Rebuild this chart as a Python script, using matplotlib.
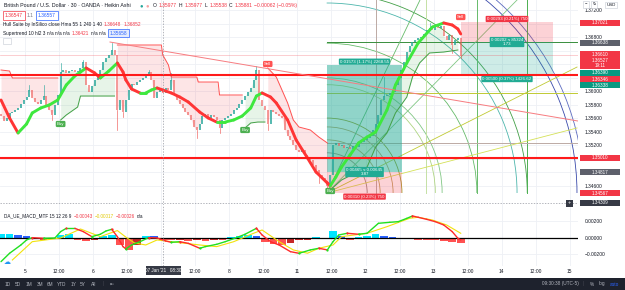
import numpy as np
import matplotlib
matplotlib.use("Agg")
import matplotlib.pyplot as plt
from matplotlib.patches import Rectangle, Arc
from matplotlib.collections import LineCollection

plt.rcParams['font.family'] = ['Liberation Sans', 'DejaVu Sans']

# ---------------------------------------------------------------- data
# Heikin Ashi closes, one value per hour (30-min chart read at hourly step)
closes = [
    1.35631, 1.35557, 1.35602, 1.35676, 1.35690, 1.35720, 1.35750, 1.35809, 1.35868, 1.35912,
    1.36016, 1.35898, 1.35838, 1.35809, 1.35868, 1.35927, 1.35779, 1.35720, 1.35646, 1.35794,
    1.35942, 1.36282, 1.36312, 1.36268, 1.36297, 1.36312, 1.36282, 1.36297, 1.36342, 1.36430,
    1.36090, 1.35986, 1.36075, 1.36164, 1.36223, 1.36312, 1.36430, 1.36490, 1.36534, 1.36608,
    1.36534, 1.35720, 1.35868, 1.35690, 1.35868, 1.36016, 1.36105, 1.36090, 1.36134, 1.36164,
    1.36194, 1.36223, 1.36282, 1.36164, 1.35898, 1.35986, 1.36016, 1.35972, 1.36046, 1.36016,
    1.36164, 1.35942, 1.35868, 1.35809, 1.35750, 1.35690, 1.35646, 1.35572, 1.35468, 1.35424,
    1.35513, 1.35631, 1.35661, 1.35602, 1.35646, 1.35616, 1.35572, 1.35454, 1.35572, 1.35602,
    1.35631, 1.35661, 1.35720, 1.35750, 1.35809, 1.35868, 1.35927, 1.35986, 1.36046, 1.36164,
    1.36312, 1.35868, 1.35779, 1.35720, 1.35513, 1.35720, 1.35690, 1.35661, 1.35631, 1.35602,
    1.35424, 1.35335, 1.35276, 1.35202, 1.35128, 1.35098, 1.35128, 1.35054, 1.35010, 1.34980,
    1.34906, 1.34832, 1.34758, 1.34714, 1.34654, 1.34595, 1.34758, 1.35202, 1.35232, 1.35187,
    1.35202, 1.35158, 1.35172, 1.35143, 1.35187, 1.35172, 1.35232, 1.35246, 1.35276, 1.35306,
    1.35335, 1.35424, 1.35513, 1.35646, 1.35868, 1.35927, 1.35942, 1.35972, 1.35986, 1.36090,
    1.36194, 1.36312, 1.36430, 1.36578, 1.36667, 1.36726, 1.36756, 1.36786, 1.36800, 1.36845,
    1.36904, 1.36934, 1.36904, 1.36948, 1.36934, 1.36963, 1.36815, 1.36756, 1.36830, 1.36682,
    1.36756, 1.36786, 1.36519]
first_open = 1.35660
wick_idx = [10, 15, 18, 21, 29, 39, 41, 43, 52, 60, 69, 77, 90, 94, 112, 115, 135, 151, 159, 162]
wick_px = [1.36090, 1.36090, 1.35572, 1.36416, 1.36460, 1.36712, 1.35424, 1.35616, 1.36312, 1.36268,
           1.35306, 1.35380, 1.36371, 1.35424, 1.34640, 1.34506, 1.36210, 1.37008, 1.36564, 1.36490]

# Hull Suite
hull_idx = [0, 3, 6, 9, 11, 14, 17, 20, 23, 26, 28, 30, 33, 35, 38, 41, 43, 44, 46, 49,
            51, 53, 55, 57, 60, 63, 66, 70, 73, 76, 79, 82, 85, 88, 90, 92, 95, 97, 101, 104,
            108, 111, 115, 116, 118, 120, 123, 126, 129, 132, 136, 139, 143, 147, 152, 156, 159, 161, 162]
hull = [1.35868, 1.35602, 1.35380, 1.35513, 1.35676, 1.35750, 1.35794, 1.35868, 1.36090, 1.36223,
        1.36282, 1.36342, 1.36268, 1.36194, 1.36297, 1.36416, 1.36282, 1.36164, 1.36031, 1.35972,
        1.35972, 1.36016, 1.36046, 1.36016, 1.35972, 1.35912, 1.35838, 1.35690, 1.35602, 1.35542,
        1.35542, 1.35572, 1.35631, 1.35750, 1.35927, 1.35972, 1.35912, 1.35824, 1.35572, 1.35276,
        1.35010, 1.34802, 1.34640, 1.34595, 1.34728, 1.34876, 1.35054, 1.35232, 1.35320, 1.35394,
        1.35720, 1.36090, 1.36416, 1.36712, 1.36948, 1.37008, 1.36978, 1.36919, 1.36845]

# Supertrend segments
st_r1_idx = [0, 3, 4, 20]
st_r1 = [1.36312, 1.36297, 1.36194, 1.36194]
st_g1_idx = [21, 23, 27, 28, 40]
st_g1 = [1.35572, 1.35646, 1.35764, 1.35927, 1.35927]
st_r2_idx = [41, 56.5, 57, 59, 60, 69, 69.5, 76.5, 77, 85]
st_r2 = [1.36682, 1.36682, 1.36534, 1.36386, 1.36208, 1.36208, 1.36134, 1.36134, 1.35942, 1.35942]
st_g2_idx = [86, 88, 90.5, 93]
st_g2 = [1.35454, 1.35528, 1.35542, 1.35542]
st_r3_idx = [94, 97, 99, 101, 103, 105, 109, 112, 115]
st_r3 = [1.36342, 1.36208, 1.36016, 1.35824, 1.35572, 1.35468, 1.35424, 1.35320, 1.35232]
st_g3_idx = [116, 120, 129, 132, 136, 139, 143, 145, 147.5, 151, 156, 161]
st_g3 = [1.34536, 1.34684, 1.34876, 1.35172, 1.35380, 1.35676, 1.35912, 1.36208, 1.36416, 1.36564, 1.36578, 1.36608]

sig_lbl_idx = [21, 86, 116, 94, 162]
sig_lbl_p = [1.35513, 1.35424, 1.34521, 1.36401, 1.37096]
sig_lbl_txt = ['Buy', 'Buy', 'Buy', 'Sell', 'Sell']

# MACD MTF
macd_idx = [0, 3, 7, 9, 11, 15, 19, 21, 23, 26, 29, 32, 35, 37, 39, 41, 43, 44, 46, 49,
            52, 55, 58, 60, 63, 66, 70, 72, 76, 79, 83, 86, 90, 92, 95, 98, 102, 105, 109, 112,
            115, 117, 119, 122, 126, 129, 133, 137, 140, 143, 145, 147, 150, 153, 156, 159, 161, 162]
macd = [-0.00287, -0.00186, -0.00085, -0.00024, 0.00004, -0.00004, 0.00000, 0.00077, 0.00117, 0.00117,
        0.00077, 0.00016, 0.00045, 0.00085, 0.00105, 0.00016, -0.00105, -0.00133, -0.00085, -0.00045,
        0.00004, 0.00000, -0.00036, -0.00053, -0.00045, -0.00065, -0.00125, -0.00105, -0.00077, -0.00045,
        0.00004, 0.00045, 0.00117, 0.00036, -0.00045, -0.00085, -0.00166, -0.00186, -0.00145, -0.00125,
        -0.00145, -0.00045, 0.00036, 0.00057, 0.00045, 0.00057, 0.00178, 0.00190, 0.00198, 0.00238,
        0.00267, 0.00251, 0.00226, 0.00198, 0.00158, 0.00077, -0.00004, -0.00024]
sig_idx = [4, 11, 21, 28, 35, 41, 44, 47, 51, 55, 60, 70, 76, 82, 89, 92, 98, 103, 108, 112,
           117, 120, 129, 136, 144, 147, 152, 157, 162]
signal = [-0.00267, -0.00045, 0.00000, 0.00109, 0.00016, 0.00090, 0.00010, -0.00060, -0.00085, -0.00024,
          -0.00045, -0.00085, -0.00105, -0.00045, 0.00057, 0.00097, -0.00045, -0.00145, -0.00185, -0.00125,
          -0.00085, 0.00016, 0.00057, 0.00137, 0.00239, 0.00251, 0.00218, 0.00158, 0.00057]
hist = [0.00045, 0.0005, 0.0004, 0.0002, -0.0001, -0.0002, -0.00015, 0.0004, 0.0005, -0.0002,
        -0.0004, -0.0003, 0.0003, 0.0004, -0.0009, -0.0014, -0.0008, 0.0003, 0.0002, -0.0002,
        -0.0003, -0.0002, -0.0004, -0.0003, -0.0004, -0.0002, -0.0002, 0.0001, 0.0003, 0.0004,
        0.0002, -0.0005, -0.0007, -0.0008, -0.0006, -0.0003, -0.0002, 0.0001, -0.0001, 0.0009,
        0.0002, -0.0002, 0.0001, 0.0003, 0.0005, 0.0002, 0.0001, -0.0001, -0.0001, -0.0002,
        -0.0003, -0.0003, -0.0004, -0.0005, -0.0006]
hist_step = 3

# axis ticks
day_ticks = [0, 0.5, 1, 1.5, 2, 2.5, 3, 3.5, 4, 4.5, 5, 5.5, 6, 6.5, 7, 7.5, 8]
day_labels = ['5', '12:00', '6', '12:00', '', '12:00', '8', '12:00', '11', '12:00',
              '12', '12:00', '13', '12:00', '14', '12:00', '15']
price_ticks = [1.346, 1.348, 1.350, 1.352, 1.354, 1.356, 1.358, 1.360, 1.362, 1.364,
               1.366, 1.368, 1.370, 1.372]
hidden_ticks = [1.348, 1.350, 1.362, 1.364, 1.366, 1.370]   # covered by price-scale labels
macd_ticks = [-0.002, 0.0, 0.002]

# drawings (time in days from 5 Jan 00:00, price)
red_levels = [1.36240, 1.35014]
last_price = 1.36527
trend_t = [1.248, 8.12]
trend_p = [1.36726, 1.35557]
pos1 = dict(t0=4.435, t1=5.536, target=1.36386, entry=1.34802, stop=1.34492)
pos2 = dict(t0=6.402, t1=7.753, target=1.36223, entry=1.36726, stop=1.37022)
fib_c = (4.435, 1.34492)
arc_r = [0.59, 0.78, 0.97, 1.10, 1.59, 1.69, 2.20, 2.79, 2.94, 3.67, 3.77]
arc_col = ['#a1887f', '#bf9f5a', '#c0a062', '#9e9d24', '#aed581', '#81c784', '#66bb6a',
           '#4db6ac', '#43a047', '#3949ab', '#5c6bc0']
fib_vt = [5.154, 5.888, 6.637, 7.372]
fib_vcol = ['#bcaaa4', '#c5e1a5', '#66bb6a', '#4caf50']
fib_hp = [1.36726, 1.35972, 1.35232]
fib_hcol = ['#388e3c', '#c0ca33', '#bcaaa4']
fan_end = [(5.800, 1.37348), (7.225, 1.37348), (8.106, 1.36356), (8.106, 1.35454)]
fan_col = ['#66bb6a', '#81c784', '#c0ca33', '#d4e157']
cross_t, cross_p = 2.026, 1.34344

# ---------------------------------------------------------------- layout
W, H = 625, 290
T0 = -0.352          # time of first bar (days)
ASPECT = 0.010077    # price units per day giving equal pixels


def bt(i):
    return T0 + np.asarray(i, dtype=float) / 24.0


fig = plt.figure(figsize=(W / 100, H / 100), dpi=100)
fig.patch.set_facecolor('white')
ax = fig.add_axes([0, 85 / H, 578 / W, 205 / H])
ax2 = fig.add_axes([0, 24 / H, 578 / W, 61 / H], sharex=ax)
XL = (-0.367, 8.120)
ax.set_xlim(*XL)
ax.set_ylim(1.34314, 1.37348)
ax2.set_ylim(-0.0034, 0.0040)

TXT = '#131722'
GRID = '#eef0f5'
for a in (ax, ax2):
    for s in a.spines.values():
        s.set_visible(False)
    a.set_xticks(day_ticks)
    for d in day_ticks:
        a.axvline(d, color=GRID, lw=0.6, zorder=0)
for p in price_ticks:
    ax.axhline(p, color=GRID, lw=0.6, zorder=0)
for p in (-0.002, 0.002):
    ax2.axhline(p, color=GRID, lw=0.6, zorder=0)

ax.tick_params(axis='x', length=0, labelbottom=False)
ax.yaxis.tick_right()
ax.set_yticks(price_ticks)
ax.set_yticklabels(['' if any(abs(p - h) < 1e-9 for h in hidden_ticks) else '%.5f' % p for p in price_ticks])
ax.tick_params(axis='y', length=0, pad=5, labelsize=3.5, labelcolor=TXT)
ax2.yaxis.tick_right()
ax2.set_yticks(macd_ticks)
ax2.set_yticklabels(['\u22120.00200', '0.00000', '0.00200'])
ax2.tick_params(axis='y', length=0, pad=5, labelsize=3.5, labelcolor=TXT)
ax2.set_xticklabels(day_labels)
ax2.tick_params(axis='x', length=0, pad=2.2, labelsize=3.5, labelcolor=TXT)

# ---------------------------------------------------------------- fib drawing
for r, c in zip(arc_r, arc_col):
    ax.add_patch(Arc(fib_c, 2 * r, 2 * r * ASPECT, theta1=0, theta2=100, color=c, lw=0.6, zorder=1.2))
for t, c in zip(fib_vt, fib_vcol):
    ax.plot([t, t], [fib_c[1], 1.37348], color=c, lw=0.7, zorder=1.2)
for p, c in zip(fib_hp, fib_hcol):
    ax.plot([fib_c[0], 8.106], [p, p], color=c, lw=0.7, zorder=1.2)
for (te, pe), c in zip(fan_end, fan_col):
    ax.plot([fib_c[0], te], [fib_c[1], pe], color=c, lw=0.6, zorder=1.2)

# position boxes
ax.add_patch(Rectangle((pos1['t0'], pos1['entry']), pos1['t1'] - pos1['t0'], pos1['target'] - pos1['entry'],
                       fc='#22ab94', alpha=0.5, lw=0, zorder=1.4))
ax.add_patch(Rectangle((pos1['t0'], pos1['stop']), pos1['t1'] - pos1['t0'], pos1['entry'] - pos1['stop'],
                       fc='#f23645', alpha=0.22, lw=0, zorder=1.4))
ax.add_patch(Rectangle((pos2['t0'], pos2['target']), pos2['t1'] - pos2['t0'], pos2['entry'] - pos2['target'],
                       fc='#22ab94', alpha=0.22, lw=0, zorder=1.4))
ax.add_patch(Rectangle((pos2['t0'], pos2['entry']), pos2['t1'] - pos2['t0'], pos2['stop'] - pos2['entry'],
                       fc='#f23645', alpha=0.22, lw=0, zorder=1.4))

# ---------------------------------------------------------------- supertrend
cl = np.asarray(closes)
st_segments = [(st_r1_idx, st_r1, 'r'), (st_g1_idx, st_g1, 'g'), (st_r2_idx, st_r2, 'r'),
               (st_g2_idx, st_g2, 'g'), (st_r3_idx, st_r3, 'r'), (st_g3_idx, st_g3, 'g')]
for idx, vals, k in st_segments:
    bars = np.arange(int(np.ceil(idx[0])), int(np.floor(idx[-1])) + 1)
    line = np.interp(bars, idx, vals)
    fc = '#f23645' if k == 'r' else '#4caf50'
    ax.fill_between(bt(bars), line, cl[bars], color=fc, alpha=0.13, lw=0, zorder=1.8)
    ax.plot(bt(idx), vals, color='#ff5252' if k == 'r' else '#43a047', lw=0.7, zorder=3.5)

# ---------------------------------------------------------------- candles
opens = np.concatenate([[first_open], cl[:-1]])
tb = bt(np.arange(len(cl)))
up = cl >= opens
ccol = np.where(up, '#26a69a', '#ef5350')
for i in range(len(cl)):
    lo, hi = min(opens[i], cl[i]), max(opens[i], cl[i])
    if hi - lo < 0.00006:
        hi = lo + 0.00006
    ax.plot([tb[i], tb[i]], [lo, hi], color=ccol[i], lw=1.1, solid_capstyle='butt',
            alpha=1.0 if up[i] else 0.75, zorder=3)
for i, w in zip(wick_idx, wick_px):
    ref = max(opens[i], cl[i]) if w > cl[i] else min(opens[i], cl[i])
    ax.plot([tb[i], tb[i]], [ref, w], color=ccol[i], lw=0.5, alpha=0.85, zorder=3)


def slope_line(a, x, y, upc, dnc, lw, z):
    pts = np.column_stack([x, y])
    segs = np.stack([pts[:-1], pts[1:]], axis=1)
    cols = [upc if y[k + 1] >= y[k] else dnc for k in range(len(y) - 1)]
    a.add_collection(LineCollection(segs, colors=cols, linewidths=lw, zorder=z,
                                    capstyle='round', joinstyle='round'))


slope_line(ax, bt(hull_idx), np.asarray(hull), '#3ee83e', '#ff3535', 2.1, 3.7)

# drawings over the series
for p in red_levels:
    ax.axhline(p, color='#ff1a1a', lw=1.5, zorder=4)
ax.axhline(last_price, color='#f23645', lw=0.5, alpha=0.35, zorder=2)
ax.plot(trend_t, trend_p, color='#f77c80', lw=0.7, zorder=4)
ax.axvline(cross_t, color='#9598a1', lw=0.5, ls=(0, (2, 2)), zorder=5)
ax2.axvline(cross_t, color='#9598a1', lw=0.5, ls=(0, (2, 2)), zorder=5)
ax.axhline(cross_p, color='#9598a1', lw=0.5, ls=(0, (2, 2)), zorder=5)

# buy / sell labels
for i, p, s in zip(sig_lbl_idx, sig_lbl_p, sig_lbl_txt):
    fc = '#4caf50' if s == 'Buy' else '#ff5252'
    ax.text(bt(i), p, s, fontsize=3.2, color='white', ha='center', va='center', zorder=6,
            bbox=dict(boxstyle='round,pad=0.25,rounding_size=0.3', fc=fc, ec='none'))


def plabel(t, p, s, fc, dy):
    ax.annotate(s, xy=(t, p), xytext=(0, dy), textcoords='offset points', ha='center', va='center',
                fontsize=3.2, color='white', zorder=6, linespacing=1.0,
                bbox=dict(boxstyle='round,pad=0.25,rounding_size=0.2', fc=fc, ec='none'))


c1 = (pos1['t0'] + pos1['t1']) / 2
plabel(c1, pos1['target'], '0.01573 (1.17%) 2268.55', '#22ab94', 2.4)
plabel(c1, pos1['entry'], '0.00465 \u2248 0.00645\n3.87', '#22ab94', 0)
plabel(c1, pos1['stop'], '0.00310 (0.23%) 750', '#f23645', -2.6)
c2 = (pos2['t0'] + pos2['t1']) / 2
plabel(c2, pos2['stop'], '0.00293 (0.21%) 750', '#f23645', 2.2)
plabel(c2, pos2['entry'], '0.00202 \u2248 85324\n1.73', '#22ab94', 0)
plabel(c2, pos2['target'], '0.00500 (0.37%) 1426.62', '#22ab94', -2.2)

# ---------------------------------------------------------------- MACD pane
hx = bt(np.arange(0, len(closes), hist_step))
hv = np.asarray(hist)
hcols = []
for k, v in enumerate(hv):
    prev = hv[k - 1] if k > 0 else v
    if v >= 0:
        hcols.append('#00e5ff' if v >= prev else '#2962ff')
    else:
        hcols.append('#ff5252' if v <= prev else '#c62828')
ax2.bar(hx, hv, width=hist_step / 24.0 * 0.9, color=hcols, lw=0, zorder=1)
ax2.axhline(0, color='black', lw=0.9, zorder=2)
ax2.plot(bt(sig_idx), signal, color='#f2e20c', lw=0.8, zorder=3)
mx, my = bt(macd_idx), np.asarray(macd)
slope_line(ax2, mx, my, '#21e021', '#ff2a2a', 1.0, 4)
for k in range(1, len(my) - 1):
    if my[k] > my[k - 1] and my[k] >= my[k + 1]:
        ax2.plot(mx[k], my[k], 'o', ms=1.6, color='#ff2a2a', mec='none', zorder=5)
    elif my[k] < my[k - 1] and my[k] <= my[k + 1]:
        ax2.plot(mx[k], my[k], 'o', ms=1.6, color='#21e021', mec='none', zorder=5)

# ---------------------------------------------------------------- chrome / texts
R = fig.canvas.get_renderer()


def ftext(x, y, s, size=3.6, color=TXT, ha='left', **kw):
    return fig.text(x / W, 1 - y / H, s, fontsize=size, color=color, ha=ha, va='center', **kw)


def seq(x, y, parts, size=3.6):
    for part in parts:
        s, col = part[0], part[1]
        box = part[2] if len(part) > 2 else None
        kw = {}
        if box is not None:
            kw['bbox'] = dict(boxstyle='square,pad=0.35', fc=box[0], ec=box[1], lw=0.5)
            x += 2
        t = ftext(x, y, s, size=size, color=col, **kw)
        x += t.get_window_extent(R).width + 2.0 + (2 if box is not None else 0)


def fbox(x, y, w, h, fc, ec='none', lw=0.5, z=5):
    fig.add_artist(Rectangle((x / W, 1 - (y + h) / H), w / W, h / H, transform=fig.transFigure,
                             fc=fc, ec=ec, lw=lw, zorder=z))


RED = '#f23645'
seq(4, 5.5, [('British Pound / U.S. Dollar \u00b7 30 \u00b7 OANDA \u00b7 Heikin Ashi', TXT)], size=3.8)
ftext(140, 5.5, '\u25cf', size=4.2, color='#26a69a')
ftext(146, 5.5, '\u25cf', size=4.2, color='#f7a1a1')
seq(153, 5.5, [('O', TXT), ('1.35977', RED), ('H', TXT), ('1.35977', RED), ('L', TXT), ('1.35538', RED),
               ('C', TXT), ('1.35881', RED), ('\u22120.00062 (\u22120.05%)', RED)], size=3.6)
seq(3, 15.5, [('1.36547', RED, ('white', RED)), ('1.1', '#787b86'), ('1.36557', '#2962ff', ('white', '#2962ff'))],
    size=3.6)
seq(3, 24.7, [('Hull Suite by InSilico close Hma 55 1 240 1 40', TXT), ('1.36648', RED), ('1.36852', RED)],
    size=3.4)
seq(3, 33.3, [('Supertrend 10 hl2 3', TXT), ('n/a n/a n/a', TXT), ('1.36421', RED), ('n/a n/a', TXT),
              ('1.35658', '#2962ff', ('#e3ebfd', '#2962ff'))], size=3.4)
fbox(3, 38, 8, 6, 'white', '#d1d4dc')
ftext(7, 41, '\u2212', size=3.6, ha='center')
seq(4, 216, [('DA_UE_MACD_MTF 15 12 26 9', TXT), ('\u22120.00043', RED), ('\u22120.00017', '#e0c800'),
             ('\u22120.00026', RED), ('n/a', TXT)], size=3.3)
ftext(7, 262, '\u2601', size=5, color='#2196f3', ha='center', family='DejaVu Sans')

# price-scale labels
price_lbls = [(22.7, '1.37021', RED), (42.7, '1.36638', '#5d606b'), (54.3, '1.36610', RED),
              (60.0, '1.36527', RED), (65.7, '19:11', RED), (72.7, '1.36390', '#089981'),
              (79.3, '1.36346', RED), (85.3, '1.36338', '#089981'), (157.7, '1.35010', RED),
              (172.0, '1.34817', '#5d606b'), (193.3, '1.34567', RED), (202.7, '1.34309', '#363a45')]
for y, s, c in price_lbls:
    fbox(580, y - 2.9, 40, 5.8, c)
    ftext(600, y, s, size=3.3, color='white', ha='center', zorder=6)
fbox(566, 199.5, 7, 7, '#363a45')
ftext(569.5, 203, '+', size=4, color='white', ha='center', zorder=6)
ftext(611, 5, 'USD', size=3.2, ha='center', bbox=dict(boxstyle='square,pad=0.3', fc='white', ec='#d1d4dc', lw=0.5))
fbox(583, 1.5, 6, 6, 'white', '#d1d4dc')
fbox(591, 1.5, 6, 6, 'white', '#d1d4dc')
ftext(586, 4.5, '\u2212', size=3, ha='center', zorder=6)
ftext(594, 4.5, '\u21bb', size=3, ha='center', zorder=6, family='DejaVu Sans')

# crosshair time label
fbox(146, 266, 35, 8.5, '#363a45')
ftext(163.5, 270.3, "07 Jan '21   08:30", size=3.3, color='white', ha='center', zorder=6)

# bottom toolbar
fig.add_artist(Rectangle((0, 0), 1, 12.5 / H, transform=fig.transFigure, fc='#1e222d', ec='none', zorder=4))
for x, s in [(8, '1D'), (18, '5D'), (29, '1M'), (40, '3M'), (50, '6M'), (62, 'YTD'), (74, '1Y'), (83, '5Y'),
             (94, 'All')]:
    ftext(x, 284, s, size=3.4, color='#b2b5be', ha='center', zorder=6)
ftext(103, 284, '|', size=3.6, color='#434651', ha='center', zorder=6)
ftext(112, 284, '\u21e4', size=3.6, color='#b2b5be', ha='center', zorder=6, family='DejaVu Sans')
ftext(560, 284, '09:30:38 (UTC-5)', size=3.4, color='#b2b5be', ha='center', zorder=6)
ftext(583, 284, '|', size=3.6, color='#434651', ha='center', zorder=6)
ftext(592, 284, '%', size=3.4, color='#b2b5be', ha='center', zorder=6)
ftext(602, 284, 'log', size=3.4, color='#b2b5be', ha='center', zorder=6)
ftext(614, 284, 'auto', size=3.4, color='#2962ff', ha='center', zorder=6)

fig.savefig('out.png', dpi=100)
